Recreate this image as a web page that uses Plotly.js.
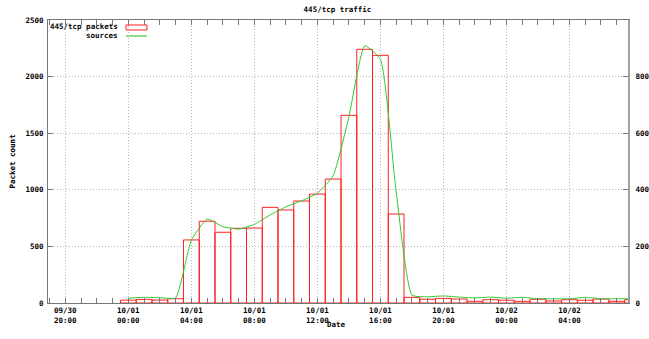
<!DOCTYPE html>
<html>
<head>
<meta charset="utf-8">
<script src="https://cdn.plot.ly/plotly-3.0.1.min.js"></script>
<style>html,body{margin:0;padding:0;background:#fff;}#chart{width:649px;height:339px;}</style>
</head>
<body>
<div id="chart"></div>
<script>
const hours = [
  '2009-10-01 00:00','2009-10-01 01:00','2009-10-01 02:00','2009-10-01 03:00',
  '2009-10-01 04:00','2009-10-01 05:00','2009-10-01 06:00','2009-10-01 07:00',
  '2009-10-01 08:00','2009-10-01 09:00','2009-10-01 10:00','2009-10-01 11:00',
  '2009-10-01 12:00','2009-10-01 13:00','2009-10-01 14:00','2009-10-01 15:00',
  '2009-10-01 16:00','2009-10-01 17:00','2009-10-01 18:00','2009-10-01 19:00',
  '2009-10-01 20:00','2009-10-01 21:00','2009-10-01 22:00','2009-10-01 23:00',
  '2009-10-02 00:00','2009-10-02 01:00','2009-10-02 02:00','2009-10-02 03:00',
  '2009-10-02 04:00','2009-10-02 05:00','2009-10-02 06:00','2009-10-02 07:00',
  '2009-10-02 08:00'
];
const packets = [25,32,26,38,557,722,625,660,662,845,822,901,962,1095,1658,2241,2188,786,
  50,33,41,35,15,29,24,15,33,18,29,24,35,15,29];
const sources = [17,20,19,18,222,296,270,261,278,311,340,361,388,450,658,909,861,392,
  28,22,25,21,18,21,17,20,15,15,15,20,15,15,15];

const xTickVals = ['2009-09-30 20:00','2009-10-01 00:00','2009-10-01 04:00','2009-10-01 08:00',
  '2009-10-01 12:00','2009-10-01 16:00','2009-10-01 20:00','2009-10-02 00:00','2009-10-02 04:00'];
const xTickText = ['09/30<br>20:00','10/01<br>00:00','10/01<br>04:00','10/01<br>08:00',
  '10/01<br>12:00','10/01<br>16:00','10/01<br>20:00','10/02<br>00:00','10/02<br>04:00'];
const yTicks = [0,500,1000,1500,2000,2500];
const y2Ticks = [0,200,400,600,800];

const F = {family:'DejaVu Sans Mono', size:7.5, color:'#000', weight:'bold'};
const RED = '#ff2020', GREEN = '#33c833', GRID = '#b4b4b4', AX = '#777';

const traces = [
  {type:'bar', x:hours, y:packets, width:3600000, name:'445/tcp packets',
   marker:{color:'rgba(0,0,0,0)', line:{color:RED, width:1}}, hoverinfo:'skip'},
  {type:'scatter', mode:'lines', x:hours, y:sources, yaxis:'y2', name:'sources',
   line:{color:GREEN, width:1, shape:'spline', smoothing:0.45}, hoverinfo:'skip'}
];

const layout = {
  width:649, height:339, showlegend:false,
  paper_bgcolor:'#fff', plot_bgcolor:'#fff',
  margin:{l:48, r:21, t:20, b:36, pad:0},
  font:F,
  title:{text:'445/tcp traffic', font:F, x:0.52, xref:'container', xanchor:'center',
         y:1-9/339, yref:'container', yanchor:'middle'},
  bargap:0,
  xaxis:{type:'date', range:['2009-09-30 18:54','2009-10-02 07:43'],
    tickmode:'array', tickvals:xTickVals, ticktext:xTickText,
    ticks:'inside', ticklen:5, tickcolor:AX, showline:true, linecolor:AX, linewidth:1, mirror:'allticks',
    showgrid:true, gridcolor:GRID, griddash:'1px,2px', gridwidth:1, zeroline:false,
    minor:{dtick:3600000, tick0:'2009-09-30 20:00', ticks:'inside', ticklen:3, tickcolor:AX, showgrid:false},
    tickfont:F, fixedrange:true},
  yaxis:{range:[0,2500], tickmode:'array', tickvals:yTicks,
    ticks:'inside', ticklen:5, tickcolor:AX, showline:true, linecolor:AX, linewidth:1, mirror:'allticks',
    showgrid:true, gridcolor:GRID, griddash:'1px,2px', gridwidth:1, zeroline:false,
    tickfont:F, ticklabelstandoff:2, fixedrange:true},
  yaxis2:{range:[0,1000], overlaying:'y', side:'right', tickmode:'array', tickvals:y2Ticks,
    ticks:'inside', ticklen:5, tickcolor:AX, showline:true, linecolor:'#a0a0a0', linewidth:2,
    showgrid:false, zeroline:false, tickfont:F, ticklabelstandoff:4, fixedrange:true},
  annotations:[
    {text:'Packet count', xref:'paper', yref:'paper', x:-0.062, y:0.5, textangle:-90,
     showarrow:false, font:F, xanchor:'center', yanchor:'middle'},
    {text:'Date', xref:'paper', yref:'paper', x:0.4978, y:-0.0777,
     showarrow:false, font:F, xanchor:'center', yanchor:'middle'},
    {text:'445/tcp packets', xref:'paper', yref:'paper', x:0.1241, y:0.9753,
     showarrow:false, font:F, xanchor:'right', yanchor:'middle'},
    {text:'sources', xref:'paper', yref:'paper', x:0.1241, y:0.9435,
     showarrow:false, font:F, xanchor:'right', yanchor:'middle'}
  ],
  shapes:[
    {type:'rect', xref:'paper', yref:'paper', x0:0.1345, x1:0.1707, y0:0.9647, y1:0.9823,
     line:{color:RED, width:1}, fillcolor:'rgba(0,0,0,0)'},
    {type:'line', xref:'paper', yref:'paper', x0:0.1345, x1:0.1707, y0:0.9435, y1:0.9435,
     line:{color:'#8fdc8f', width:2}}
  ]
};

Plotly.newPlot('chart', traces, layout, {displayModeBar:false, staticPlot:true});
</script>
</body>
</html>
